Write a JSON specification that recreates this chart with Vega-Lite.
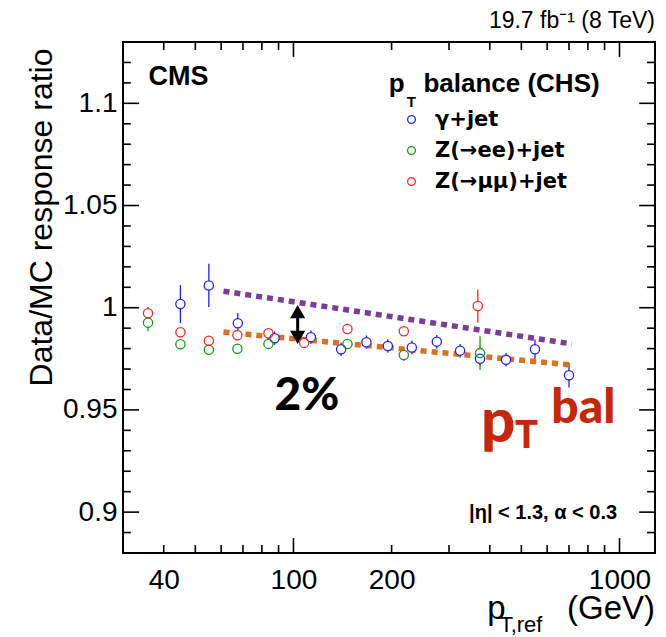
{
  "$schema": "https://vega.github.io/schema/vega-lite/v6.json",
  "width": 532,
  "height": 511,
  "autosize": "none",
  "padding": {"left": 123, "top": 42, "right": 11, "bottom": 84},
  "background": "white",
  "config": {
    "view": {"stroke": "black", "strokeWidth": 2},
    "font": "Liberation Sans",
    "axis": {"grid": false, "domain": false, "ticks": false, "labelColor": "black", "labelFont": "Liberation Sans", "labelFontSize": 28, "labelOverlap": false, "labelFlush": false, "labelBound": false, "title": null}
  },
  "datasets": {
    "points": [
      {"sample": "γ+jet", "pt": 45.0, "r": 1.0018, "lo": 0.9925, "hi": 1.0111},
      {"sample": "γ+jet", "pt": 55.0, "r": 1.0109, "lo": 1.0003, "hi": 1.0215},
      {"sample": "γ+jet", "pt": 67.5, "r": 0.9924, "lo": 0.9874, "hi": 0.9974},
      {"sample": "γ+jet", "pt": 87.5, "r": 0.9851, "lo": 0.9818, "hi": 0.9884},
      {"sample": "γ+jet", "pt": 113.1, "r": 0.9856, "lo": 0.9823, "hi": 0.9889},
      {"sample": "γ+jet", "pt": 140, "r": 0.9797, "lo": 0.9764, "hi": 0.983},
      {"sample": "γ+jet", "pt": 167.4, "r": 0.9831, "lo": 0.9798, "hi": 0.9864},
      {"sample": "γ+jet", "pt": 194.7, "r": 0.9813, "lo": 0.978, "hi": 0.9846},
      {"sample": "γ+jet", "pt": 230.7, "r": 0.9805, "lo": 0.9772, "hi": 0.9838},
      {"sample": "γ+jet", "pt": 275.2, "r": 0.9834, "lo": 0.9801, "hi": 0.9867},
      {"sample": "γ+jet", "pt": 324.4, "r": 0.979, "lo": 0.9757, "hi": 0.9823},
      {"sample": "γ+jet", "pt": 373.5, "r": 0.975, "lo": 0.9717, "hi": 0.9783},
      {"sample": "γ+jet", "pt": 448.7, "r": 0.9745, "lo": 0.9712, "hi": 0.9778},
      {"sample": "γ+jet", "pt": 550.5, "r": 0.9797, "lo": 0.975, "hi": 0.9844},
      {"sample": "γ+jet", "pt": 700, "r": 0.967, "lo": 0.961, "hi": 0.973},
      {"sample": "Z(→ee)+jet", "pt": 35.8, "r": 0.9927, "lo": 0.9885, "hi": 0.9969},
      {"sample": "Z(→ee)+jet", "pt": 45.0, "r": 0.9821, "lo": 0.9801, "hi": 0.9841},
      {"sample": "Z(→ee)+jet", "pt": 55.0, "r": 0.9794, "lo": 0.9774, "hi": 0.9814},
      {"sample": "Z(→ee)+jet", "pt": 67.3, "r": 0.9799, "lo": 0.9779, "hi": 0.9819},
      {"sample": "Z(→ee)+jet", "pt": 83.8, "r": 0.9823, "lo": 0.9803, "hi": 0.9843},
      {"sample": "Z(→ee)+jet", "pt": 146.4, "r": 0.9823, "lo": 0.9803, "hi": 0.9843},
      {"sample": "Z(→ee)+jet", "pt": 218, "r": 0.9769, "lo": 0.9739, "hi": 0.9799},
      {"sample": "Z(→ee)+jet", "pt": 373.5, "r": 0.9778, "lo": 0.9695, "hi": 0.9861},
      {"sample": "Z(→μμ)+jet", "pt": 35.8, "r": 0.9973, "lo": 0.9943, "hi": 1.0003},
      {"sample": "Z(→μμ)+jet", "pt": 45.0, "r": 0.988, "lo": 0.986, "hi": 0.99},
      {"sample": "Z(→μμ)+jet", "pt": 55.0, "r": 0.9838, "lo": 0.9818, "hi": 0.9858},
      {"sample": "Z(→μμ)+jet", "pt": 67.3, "r": 0.9865, "lo": 0.9845, "hi": 0.9885},
      {"sample": "Z(→μμ)+jet", "pt": 83.8, "r": 0.9875, "lo": 0.9855, "hi": 0.9895},
      {"sample": "Z(→μμ)+jet", "pt": 107.8, "r": 0.9828, "lo": 0.9808, "hi": 0.9848},
      {"sample": "Z(→μμ)+jet", "pt": 146.4, "r": 0.9896, "lo": 0.9876, "hi": 0.9916},
      {"sample": "Z(→μμ)+jet", "pt": 218, "r": 0.9885, "lo": 0.9865, "hi": 0.9905},
      {"sample": "Z(→μμ)+jet", "pt": 367.6, "r": 1.0008, "lo": 0.9927, "hi": 1.0089}
    ],
    "fits": [
      {"fit": "upper", "pt": 61, "r": 1.0081},
      {"fit": "upper", "pt": 714, "r": 0.9823},
      {"fit": "lower", "pt": 61, "r": 0.9881},
      {"fit": "lower", "pt": 714, "r": 0.972}
    ],
    "xticks": [
      {"v": 40, "kind": "minor"}, {"v": 50, "kind": "minor"}, {"v": 60, "kind": "minor"}, {"v": 70, "kind": "minor"}, {"v": 80, "kind": "minor"}, {"v": 90, "kind": "minor"},
      {"v": 100, "kind": "major"},
      {"v": 200, "kind": "minor"}, {"v": 300, "kind": "minor"}, {"v": 400, "kind": "minor"}, {"v": 500, "kind": "minor"}, {"v": 600, "kind": "minor"}, {"v": 700, "kind": "minor"}, {"v": 800, "kind": "minor"}, {"v": 900, "kind": "minor"},
      {"v": 1000, "kind": "major"}
    ],
    "yticks": [
      {"v": 0.89, "kind": "minor"}, {"v": 0.9, "kind": "major"}, {"v": 0.91, "kind": "minor"}, {"v": 0.92, "kind": "minor"}, {"v": 0.93, "kind": "minor"}, {"v": 0.94, "kind": "minor"},
      {"v": 0.95, "kind": "major"}, {"v": 0.96, "kind": "minor"}, {"v": 0.97, "kind": "minor"}, {"v": 0.98, "kind": "minor"}, {"v": 0.99, "kind": "minor"},
      {"v": 1.0, "kind": "major"}, {"v": 1.01, "kind": "minor"}, {"v": 1.02, "kind": "minor"}, {"v": 1.03, "kind": "minor"}, {"v": 1.04, "kind": "minor"},
      {"v": 1.05, "kind": "major"}, {"v": 1.06, "kind": "minor"}, {"v": 1.07, "kind": "minor"}, {"v": 1.08, "kind": "minor"}, {"v": 1.09, "kind": "minor"},
      {"v": 1.1, "kind": "major"}, {"v": 1.11, "kind": "minor"}, {"v": 1.12, "kind": "minor"}
    ]
  },
  "layer": [
    {
      "data": {"name": "points"},
      "mark": {"type": "rule", "strokeWidth": 1.3},
      "encoding": {
        "x": {"field": "pt", "type": "quantitative", "scale": {"type": "log", "domain": [30, 1285], "nice": false},
          "axis": {"orient": "bottom", "values": [40, 100, 200, 1000], "ticks": false, "tickSize": 0, "labelPadding": 13, "labelExpr": "format(datum.value, 'd')"}},
        "y": {"field": "lo", "type": "quantitative", "scale": {"domain": [0.88, 1.13], "zero": false, "nice": false},
          "axis": {"orient": "left", "title": "Data/MC response ratio", "titleFontSize": 32, "titleFont": "Liberation Sans", "titleFontWeight": "normal", "titleColor": "black", "titleAngle": -90, "titleAlign": "right", "titleBaseline": "alphabetic", "titleX": -72, "titleY": 6,
            "values": [0.9, 0.95, 1, 1.05, 1.1], "ticks": false, "tickSize": 0, "labelPadding": 6,
            "labelExpr": "format(datum.value, '.3~g')"}},
        "y2": {"field": "hi"},
        "color": {"field": "sample", "type": "nominal", "scale": {"domain": ["γ+jet", "Z(→ee)+jet", "Z(→μμ)+jet"], "range": ["#2020ff", "#159a15", "#ff2525"]},
          "legend": {"orient": "none", "legendX": 278, "legendY": 67, "title": null, "padding": 0, "labelFont": "DejaVu Sans", "labelFontSize": 21, "labelFontWeight": "bold", "labelColor": "black", "symbolType": "circle", "symbolSize": 60, "symbolStrokeWidth": 1.3, "symbolFillColor": "transparent", "labelOffset": 13, "rowPadding": 9}}
      }
    },
    {
      "data": {"name": "xticks"},
      "transform": [{"filter": "datum.kind == 'minor'"}],
      "mark": {"type": "rule", "color": "black", "strokeWidth": 1.6},
      "encoding": {
        "x": {"field": "v", "type": "quantitative", "scale": {"type": "log", "domain": [30, 1285], "nice": false}, "axis": null},
        "y": {"datum": 0.88, "type": "quantitative", "scale": {"domain": [0.88, 1.13], "zero": false, "nice": false}, "axis": null},
        "y2": {"datum": 0.8839}
      }
    },
    {
      "data": {"name": "xticks"},
      "transform": [{"filter": "datum.kind == 'major'"}],
      "mark": {"type": "rule", "color": "black", "strokeWidth": 1.6},
      "encoding": {
        "x": {"field": "v", "type": "quantitative", "scale": {"type": "log", "domain": [30, 1285], "nice": false}, "axis": null},
        "y": {"datum": 0.88, "type": "quantitative", "scale": {"domain": [0.88, 1.13], "zero": false, "nice": false}, "axis": null},
        "y2": {"datum": 0.8873}
      }
    },
    {
      "data": {"name": "xticks"},
      "transform": [{"filter": "datum.kind == 'minor'"}],
      "mark": {"type": "rule", "color": "black", "strokeWidth": 1.6},
      "encoding": {
        "x": {"field": "v", "type": "quantitative", "scale": {"type": "log", "domain": [30, 1285], "nice": false}, "axis": null},
        "y": {"datum": 1.13, "type": "quantitative", "scale": {"domain": [0.88, 1.13], "zero": false, "nice": false}, "axis": null},
        "y2": {"datum": 1.1261}
      }
    },
    {
      "data": {"name": "xticks"},
      "transform": [{"filter": "datum.kind == 'major'"}],
      "mark": {"type": "rule", "color": "black", "strokeWidth": 1.6},
      "encoding": {
        "x": {"field": "v", "type": "quantitative", "scale": {"type": "log", "domain": [30, 1285], "nice": false}, "axis": null},
        "y": {"datum": 1.13, "type": "quantitative", "scale": {"domain": [0.88, 1.13], "zero": false, "nice": false}, "axis": null},
        "y2": {"datum": 1.1227}
      }
    },
    {
      "data": {"name": "yticks"},
      "transform": [{"filter": "datum.kind == 'minor'"}],
      "mark": {"type": "rule", "color": "black", "strokeWidth": 1.6},
      "encoding": {
        "x": {"datum": 30, "type": "quantitative", "scale": {"type": "log", "domain": [30, 1285], "nice": false}, "axis": null},
        "x2": {"datum": 31.7},
        "y": {"field": "v", "type": "quantitative", "scale": {"domain": [0.88, 1.13], "zero": false, "nice": false}, "axis": null}
      }
    },
    {
      "data": {"name": "yticks"},
      "transform": [{"filter": "datum.kind == 'major'"}],
      "mark": {"type": "rule", "color": "black", "strokeWidth": 1.6},
      "encoding": {
        "x": {"datum": 30, "type": "quantitative", "scale": {"type": "log", "domain": [30, 1285], "nice": false}, "axis": null},
        "x2": {"datum": 33.6},
        "y": {"field": "v", "type": "quantitative", "scale": {"domain": [0.88, 1.13], "zero": false, "nice": false}, "axis": null}
      }
    },
    {
      "data": {"name": "yticks"},
      "transform": [{"filter": "datum.kind == 'minor'"}],
      "mark": {"type": "rule", "color": "black", "strokeWidth": 1.6},
      "encoding": {
        "x": {"datum": 1285, "type": "quantitative", "scale": {"type": "log", "domain": [30, 1285], "nice": false}, "axis": null},
        "x2": {"datum": 1215},
        "y": {"field": "v", "type": "quantitative", "scale": {"domain": [0.88, 1.13], "zero": false, "nice": false}, "axis": null}
      }
    },
    {
      "data": {"name": "yticks"},
      "transform": [{"filter": "datum.kind == 'major'"}],
      "mark": {"type": "rule", "color": "black", "strokeWidth": 1.6},
      "encoding": {
        "x": {"datum": 1285, "type": "quantitative", "scale": {"type": "log", "domain": [30, 1285], "nice": false}, "axis": null},
        "x2": {"datum": 1149},
        "y": {"field": "v", "type": "quantitative", "scale": {"domain": [0.88, 1.13], "zero": false, "nice": false}, "axis": null}
      }
    },
    {
      "data": {"name": "fits"},
      "transform": [{"filter": "datum.fit == 'upper'"}],
      "mark": {"type": "line", "color": "#7a3d9e", "strokeWidth": 5.5, "strokeDash": [6, 5], "strokeCap": "butt"},
      "encoding": {
        "x": {"field": "pt", "type": "quantitative", "scale": {"type": "log", "domain": [30, 1285], "nice": false}, "axis": null},
        "y": {"field": "r", "type": "quantitative", "scale": {"domain": [0.88, 1.13], "zero": false, "nice": false}, "axis": null}
      }
    },
    {
      "data": {"name": "fits"},
      "transform": [{"filter": "datum.fit == 'lower'"}],
      "mark": {"type": "line", "color": "#e0701a", "strokeWidth": 5.5, "strokeDash": [6, 5], "strokeCap": "butt"},
      "encoding": {
        "x": {"field": "pt", "type": "quantitative", "scale": {"type": "log", "domain": [30, 1285], "nice": false}, "axis": null},
        "y": {"field": "r", "type": "quantitative", "scale": {"domain": [0.88, 1.13], "zero": false, "nice": false}, "axis": null}
      }
    },
    {
      "data": {"values": [{}]},
      "mark": {"type": "rule", "color": "black", "strokeWidth": 3},
      "encoding": {
        "x": {"datum": 103, "type": "quantitative", "scale": {"type": "log", "domain": [30, 1285], "nice": false}, "axis": null},
        "y": {"datum": 0.9975, "type": "quantitative", "scale": {"domain": [0.88, 1.13], "zero": false, "nice": false}, "axis": null},
        "y2": {"datum": 0.986}
      }
    },
    {
      "data": {"values": [{}]},
      "mark": {"type": "point", "shape": "triangle-up", "filled": true, "color": "black", "opacity": 1, "size": 230},
      "encoding": {
        "x": {"datum": 103, "type": "quantitative", "scale": {"type": "log", "domain": [30, 1285], "nice": false}, "axis": null},
        "y": {"datum": 0.9981, "type": "quantitative", "scale": {"domain": [0.88, 1.13], "zero": false, "nice": false}, "axis": null}
      }
    },
    {
      "data": {"values": [{}]},
      "mark": {"type": "point", "shape": "triangle-down", "filled": true, "color": "black", "opacity": 1, "size": 230},
      "encoding": {
        "x": {"datum": 103, "type": "quantitative", "scale": {"type": "log", "domain": [30, 1285], "nice": false}, "axis": null},
        "y": {"datum": 0.9855, "type": "quantitative", "scale": {"domain": [0.88, 1.13], "zero": false, "nice": false}, "axis": null}
      }
    },
    {
      "data": {"name": "points"},
      "mark": {"type": "point", "shape": "circle", "filled": true, "color": "white", "opacity": 1, "size": 85},
      "encoding": {
        "x": {"field": "pt", "type": "quantitative", "scale": {"type": "log", "domain": [30, 1285], "nice": false}, "axis": null},
        "y": {"field": "r", "type": "quantitative", "scale": {"domain": [0.88, 1.13], "zero": false, "nice": false}, "axis": null}
      }
    },
    {
      "data": {"name": "points"},
      "mark": {"type": "point", "shape": "circle", "filled": false, "opacity": 1, "size": 85, "strokeWidth": 1.3},
      "encoding": {
        "x": {"field": "pt", "type": "quantitative", "scale": {"type": "log", "domain": [30, 1285], "nice": false}, "axis": null},
        "y": {"field": "r", "type": "quantitative", "scale": {"domain": [0.88, 1.13], "zero": false, "nice": false}, "axis": null},
        "color": {"field": "sample", "type": "nominal", "scale": {"domain": ["γ+jet", "Z(→ee)+jet", "Z(→μμ)+jet"], "range": ["#2020ff", "#159a15", "#ff2525"]},
          "legend": {"orient": "none", "legendX": 278, "legendY": 67, "title": null, "padding": 0, "labelFont": "DejaVu Sans", "labelFontSize": 21, "labelFontWeight": "bold", "labelColor": "black", "symbolType": "circle", "symbolSize": 60, "symbolStrokeWidth": 1.3, "symbolFillColor": "transparent", "labelOffset": 13, "rowPadding": 9}}
      }
    },
    {
      "data": {"values": [{}]},
      "mark": {"type": "text", "text": "19.7 fb⁻¹ (8 TeV)", "font": "Liberation Sans", "fontSize": 23, "align": "right", "baseline": "alphabetic", "color": "black"},
      "encoding": {
        "x": {"datum": 1285, "type": "quantitative", "scale": {"type": "log", "domain": [30, 1285], "nice": false}, "axis": null},
        "y": {"datum": 1.1367, "type": "quantitative", "scale": {"domain": [0.88, 1.13], "zero": false, "nice": false}, "axis": null}
      }
    },
    {
      "data": {"values": [{}]},
      "mark": {"type": "text", "text": "CMS", "font": "Liberation Sans", "fontWeight": "bold", "fontSize": 27, "align": "left", "baseline": "alphabetic", "color": "black"},
      "encoding": {
        "x": {"datum": 35.9, "type": "quantitative", "scale": {"type": "log", "domain": [30, 1285], "nice": false}, "axis": null},
        "y": {"datum": 1.1091, "type": "quantitative", "scale": {"domain": [0.88, 1.13], "zero": false, "nice": false}, "axis": null}
      }
    },
    {
      "data": {"values": [{}]},
      "mark": {"type": "text", "text": "p", "font": "Liberation Sans", "fontWeight": "bold", "fontSize": 26, "align": "left", "baseline": "alphabetic", "color": "black"},
      "encoding": {
        "x": {"datum": 196, "type": "quantitative", "scale": {"type": "log", "domain": [30, 1285], "nice": false}, "axis": null},
        "y": {"datum": 1.1054, "type": "quantitative", "scale": {"domain": [0.88, 1.13], "zero": false, "nice": false}, "axis": null}
      }
    },
    {
      "data": {"values": [{}]},
      "mark": {"type": "text", "text": "T", "font": "Liberation Sans", "fontWeight": "bold", "fontSize": 15, "align": "left", "baseline": "alphabetic", "color": "black"},
      "encoding": {
        "x": {"datum": 222.6, "type": "quantitative", "scale": {"type": "log", "domain": [30, 1285], "nice": false}, "axis": null},
        "y": {"datum": 1.098, "type": "quantitative", "scale": {"domain": [0.88, 1.13], "zero": false, "nice": false}, "axis": null}
      }
    },
    {
      "data": {"values": [{}]},
      "mark": {"type": "text", "text": "balance (CHS)", "font": "Liberation Sans", "fontWeight": "bold", "fontSize": 26, "align": "left", "baseline": "alphabetic", "color": "black"},
      "encoding": {
        "x": {"datum": 250.3, "type": "quantitative", "scale": {"type": "log", "domain": [30, 1285], "nice": false}, "axis": null},
        "y": {"datum": 1.1054, "type": "quantitative", "scale": {"domain": [0.88, 1.13], "zero": false, "nice": false}, "axis": null}
      }
    },
    {
      "data": {"values": [{}]},
      "mark": {"type": "text", "text": "2%", "font": "Lato", "fontWeight": 900, "fontSize": 46, "align": "center", "baseline": "alphabetic", "color": "black"},
      "encoding": {
        "x": {"datum": 109.9, "type": "quantitative", "scale": {"type": "log", "domain": [30, 1285], "nice": false}, "axis": null},
        "y": {"datum": 0.9501, "type": "quantitative", "scale": {"domain": [0.88, 1.13], "zero": false, "nice": false}, "axis": null}
      }
    },
    {
      "data": {"values": [{}]},
      "mark": {"type": "text", "text": "p", "font": "Lato", "fontWeight": 900, "fontSize": 60, "align": "left", "baseline": "alphabetic", "color": "#c8260a"},
      "encoding": {
        "x": {"datum": 376, "type": "quantitative", "scale": {"type": "log", "domain": [30, 1285], "nice": false}, "axis": null},
        "y": {"datum": 0.9345, "type": "quantitative", "scale": {"domain": [0.88, 1.13], "zero": false, "nice": false}, "axis": null}
      }
    },
    {
      "data": {"values": [{}]},
      "mark": {"type": "text", "text": "T", "font": "Lato", "fontWeight": 900, "fontSize": 38, "align": "left", "baseline": "alphabetic", "color": "#c8260a"},
      "encoding": {
        "x": {"datum": 478, "type": "quantitative", "scale": {"type": "log", "domain": [30, 1285], "nice": false}, "axis": null},
        "y": {"datum": 0.9314, "type": "quantitative", "scale": {"domain": [0.88, 1.13], "zero": false, "nice": false}, "axis": null}
      }
    },
    {
      "data": {"values": [{}]},
      "mark": {"type": "text", "text": "bal", "font": "Lato", "fontWeight": 900, "fontSize": 48, "align": "left", "baseline": "alphabetic", "color": "#c8260a"},
      "encoding": {
        "x": {"datum": 618, "type": "quantitative", "scale": {"type": "log", "domain": [30, 1285], "nice": false}, "axis": null},
        "y": {"datum": 0.9436, "type": "quantitative", "scale": {"domain": [0.88, 1.13], "zero": false, "nice": false}, "axis": null}
      }
    },
    {
      "data": {"values": [{}]},
      "mark": {"type": "text", "text": "|η| < 1.3,  α < 0.3", "font": "Liberation Sans", "fontWeight": "bold", "fontSize": 20, "align": "center", "baseline": "alphabetic", "color": "black"},
      "encoding": {
        "x": {"datum": 583, "type": "quantitative", "scale": {"type": "log", "domain": [30, 1285], "nice": false}, "axis": null},
        "y": {"datum": 0.8964, "type": "quantitative", "scale": {"domain": [0.88, 1.13], "zero": false, "nice": false}, "axis": null}
      }
    },
    {
      "data": {"values": [{}]},
      "mark": {"type": "text", "text": "p", "font": "Liberation Sans", "fontSize": 33, "align": "left", "baseline": "alphabetic", "color": "black"},
      "encoding": {
        "x": {"datum": 393.3, "type": "quantitative", "scale": {"type": "log", "domain": [30, 1285], "nice": false}, "axis": null},
        "y": {"datum": 0.8477, "type": "quantitative", "scale": {"domain": [0.88, 1.13], "zero": false, "nice": false}, "axis": null}
      }
    },
    {
      "data": {"values": [{}]},
      "mark": {"type": "text", "text": "T,ref", "font": "Liberation Sans", "fontSize": 22, "align": "left", "baseline": "alphabetic", "color": "black"},
      "encoding": {
        "x": {"datum": 429, "type": "quantitative", "scale": {"type": "log", "domain": [30, 1285], "nice": false}, "axis": null},
        "y": {"datum": 0.8413, "type": "quantitative", "scale": {"domain": [0.88, 1.13], "zero": false, "nice": false}, "axis": null}
      }
    },
    {
      "data": {"values": [{}]},
      "mark": {"type": "text", "text": "(GeV)", "font": "Liberation Sans", "fontSize": 33, "align": "right", "baseline": "alphabetic", "color": "black"},
      "encoding": {
        "x": {"datum": 1285, "type": "quantitative", "scale": {"type": "log", "domain": [30, 1285], "nice": false}, "axis": null},
        "y": {"datum": 0.8477, "type": "quantitative", "scale": {"domain": [0.88, 1.13], "zero": false, "nice": false}, "axis": null}
      }
    }
  ],
  "resolve": {"axis": {"x": "independent", "y": "independent"}}
}
